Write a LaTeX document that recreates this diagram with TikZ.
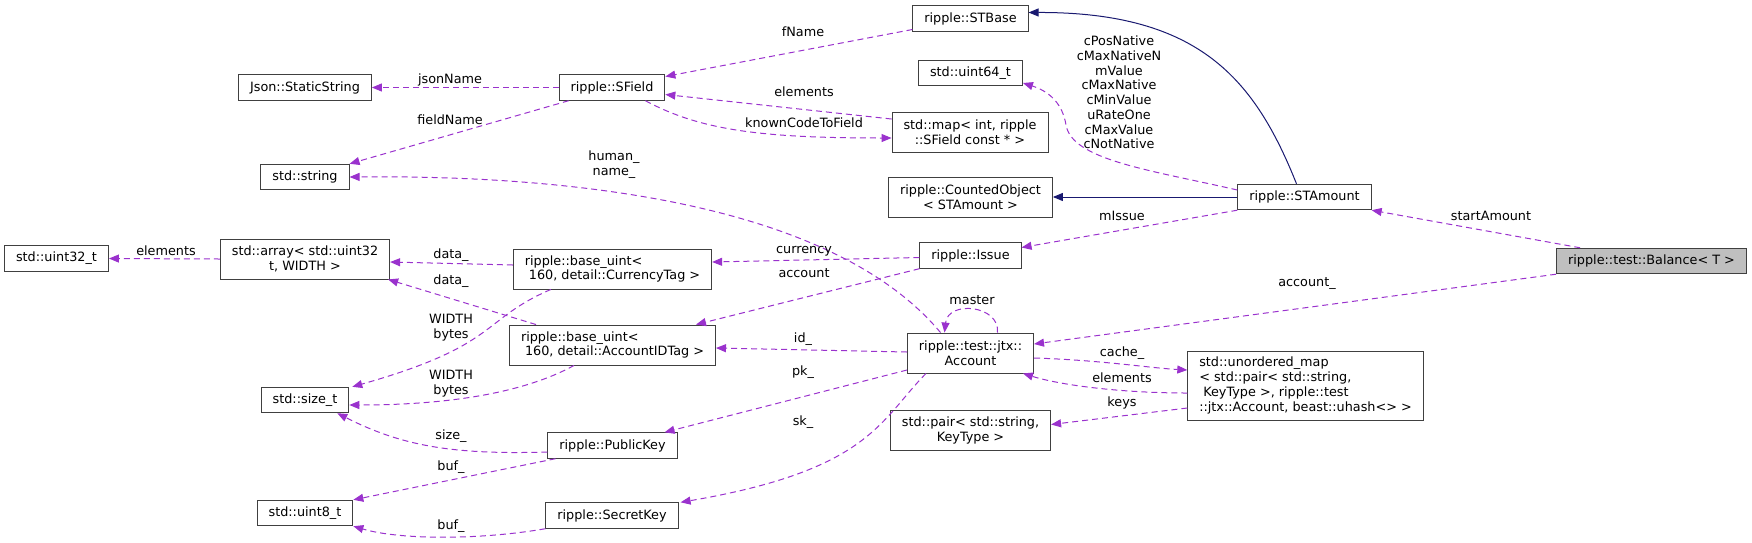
\documentclass[tikz,border=0pt]{standalone}
\usepackage{fontspec}
\setmainfont{DejaVu Sans}
\usetikzlibrary{arrows.meta}
\definecolor{usecol}{HTML}{9A32CD}
\definecolor{inhcol}{HTML}{191970}
\definecolor{boxcol}{HTML}{404040}
\definecolor{rootfill}{HTML}{BFBFBF}
\begin{document}
\begin{tikzpicture}[x=1pt, y=-1pt, font=\fontsize{12.8}{14.7}\selectfont,
    cls/.style={draw=boxcol, line width=0.9pt, fill=white, align=center,
        inner xsep=11.5pt, inner ysep=3pt, minimum height=25.5pt},
    two/.style={minimum height=40pt},
    four/.style={minimum height=69pt},
    root/.style={cls, fill=rootfill},
    use/.style={draw=usecol, line width=1pt, dash pattern=on 6pt off 4pt,
        -{Triangle[length=10pt,width=8pt]}},
    inherit/.style={draw=inhcol, line width=1pt, -{Triangle[length=10pt,width=8pt]}},
    lbl/.style={inner sep=0pt, align=center}]
    \useasboundingbox (0,0) rectangle (1752,542);
    % classes
    \node[cls] (uint32) at (56.5,258.5) {std::uint32\_t};
    \node[cls,two] (array) at (305,259) {std::array< std::uint32\\t, WIDTH >};
    \node[cls] (jsonstr) at (305,87.5) {Json::StaticString};
    \node[cls] (string) at (305,177) {std::string};
    \node[cls] (sizet) at (305,400) {std::size\_t};
    \node[cls] (uint8) at (305,513) {std::uint8\_t};
    \node[cls] (sfield) at (612,87.5) {ripple::SField};
    \node[cls,two,align=left] (currency) at (612.5,269) {ripple::base\_uint<\\\ 160, detail::CurrencyTag >};
    \node[cls,two,align=left] (acctid) at (612.5,345) {ripple::base\_uint<\\\ 160, detail::AccountIDTag >};
    \node[cls] (pubkey) at (612.5,445.5) {ripple::PublicKey};
    \node[cls] (seckey) at (612,515.5) {ripple::SecretKey};
    \node[cls] (stbase) at (970.5,18.5) {ripple::STBase};
    \node[cls] (uint64) at (970.5,73) {std::uint64\_t};
    \node[cls,two] (smap) at (970,132) {std::map< int, ripple\\::SField const * >};
    \node[cls,two] (counted) at (970.5,197) {ripple::CountedObject\\< STAmount >};
    \node[cls] (issue) at (970.5,255.5) {ripple::Issue};
    \node[cls,two] (account) at (970.5,353) {ripple::test::jtx::\\Account};
    \node[cls,two] (keypair) at (970.5,430.5) {std::pair< std::string,\\KeyType >};
    \node[cls] (stamount) at (1304.5,197) {ripple::STAmount};
    \node[cls,four,align=left] (cache) at (1305.5,385.5) {std::unordered\_map\\< std::pair< std::string,\\\ KeyType >, ripple::test\\::jtx::Account, beast::uhash<> >};
    \node[root] (balance) at (1651.5,261) {ripple::test::Balance< T >};
    % base classes
    \draw[inherit] ([xshift=-8pt]stamount.north) .. controls (1255,80) and (1200,12) .. ([yshift=6pt]stbase.east);
    \draw[inherit] (stamount.west) -- (counted.east);
    % members
    \draw[use] ([yshift=7pt]stamount.west) .. controls (1150,170) and (1072,160) .. (1066,125)
        .. controls (1062,100) and (1045,90) .. ([yshift=-10pt]uint64.east);
    \draw[use] (stamount.south west) -- ([yshift=8pt]issue.east);
    \draw[use] ([xshift=24pt]balance.north west) -- (stamount.south east);
    \draw[use] (balance.south west) -- ([yshift=9pt]account.east);
    \draw[use] ([yshift=-11pt]stbase.west) -- ([yshift=11pt]sfield.east);
    \draw[use] (sfield.west) -- (jsonstr.east);
    \draw[use] ([xshift=10pt]sfield.south west) -- (string.north east);
    \draw[use] ([yshift=13pt]smap.west) -- ([yshift=-7pt]sfield.east);
    \draw[use] ([xshift=-20pt]sfield.south east) .. controls (700,130) and (760,138) .. ([yshift=-6pt]smap.west);
    \draw[use] ([xshift=-30pt]account.north) .. controls (830,200) and (560,175) .. (string.east);
    \draw[use] ([xshift=27pt]account.north) .. controls (1000,305) and (948,300) .. ([xshift=-26pt]account.north);
    \draw[use] ([yshift=-2pt]issue.west) -- ([yshift=7pt]currency.east);
    \draw[use] (issue.south west) -- ([xshift=-20pt]acctid.north east);
    \draw[use] ([yshift=1pt]account.west) -- ([yshift=-3pt]acctid.east);
    \draw[use] ([yshift=-17pt]account.west) -- ([xshift=-13pt]pubkey.north east);
    \draw[use] ([xshift=19pt]account.south west) .. controls (880,420) and (870,470) .. ([xshift=2pt]seckey.north east);
    \draw[use] ([yshift=-5pt]account.east) .. controls (1100,360) and (1150,368) .. ([yshift=15.5pt]cache.west);
    \draw[use] ([yshift=-7.5pt]cache.west) .. controls (1120,393) and (1060,385) .. ([xshift=-11pt]account.south east);
    \draw[use] ([yshift=-22.5pt]cache.west) -- ([yshift=6pt]keypair.east);
    \draw[use] (array.west) -- (uint32.east);
    \draw[use] ([yshift=4pt]currency.west) -- ([yshift=-3pt]array.east);
    \draw[use] ([xshift=27pt]acctid.north west) -- ([xshift=-2pt]array.south east);
    \draw[use] ([xshift=38pt]currency.south west) .. controls (480,320) and (500,345) .. ([xshift=3pt]sizet.north east);
    \draw[use] ([xshift=65pt]acctid.south west) .. controls (520,395) and (440,405) .. ([yshift=-5pt]sizet.east);
    \draw[use] ([yshift=-6.5pt]pubkey.west) .. controls (450,455) and (400,445) .. ([xshift=-12pt]sizet.south east);
    \draw[use] ([xshift=8pt]pubkey.south west) -- (uint8.north east);
    \draw[use] (seckey.south west) .. controls (480,540) and (400,540) .. (uint8.south east);
    % edge labels
    \node[lbl] (l-fname) at (803,32) {fName};
    \node[lbl] (l-json) at (450,80) {jsonName};
    \node[lbl] (l-fieldname) at (450,120) {fieldName};
    \node[lbl] (l-elemmap) at (804,92) {elements};
    \node[lbl] (l-known) at (804,123) {knownCodeToField};
    \node[lbl] (l-human) at (614,164.5) {human\_\\name\_};
    \node[lbl] (l-consts) at (1119,92.5) {cPosNative\\cMaxNativeN\\mValue\\cMaxNative\\cMinValue\\uRateOne\\cMaxValue\\cNotNative};
    \node[lbl] (l-missue) at (1122,216) {mIssue};
    \node[lbl] (l-start) at (1491,216) {startAmount};
    \node[lbl] (l-acct) at (1307,284) {account\_};
    \node[lbl] (l-elemarr) at (166,251) {elements};
    \node[lbl] (l-data1) at (451,255) {data\_};
    \node[lbl] (l-data2) at (451,281) {data\_};
    \node[lbl] (l-width1) at (451,328) {WIDTH\\bytes};
    \node[lbl] (l-width2) at (451,383.5) {WIDTH\\bytes};
    \node[lbl] (l-size) at (451,436) {size\_};
    \node[lbl] (l-buf1) at (451,467) {buf\_};
    \node[lbl] (l-buf2) at (451,526) {buf\_};
    \node[lbl] (l-currency) at (804,251) {currency};
    \node[lbl] (l-account) at (804,273) {account};
    \node[lbl] (l-master) at (972,300) {master};
    \node[lbl] (l-id) at (803,339) {id\_};
    \node[lbl] (l-pk) at (803,372) {pk\_};
    \node[lbl] (l-sk) at (803,422) {sk\_};
    \node[lbl] (l-cache) at (1122,353) {cache\_};
    \node[lbl] (l-elemcache) at (1122,378) {elements};
    \node[lbl] (l-keys) at (1122,403) {keys};
\end{tikzpicture}
\end{document}
